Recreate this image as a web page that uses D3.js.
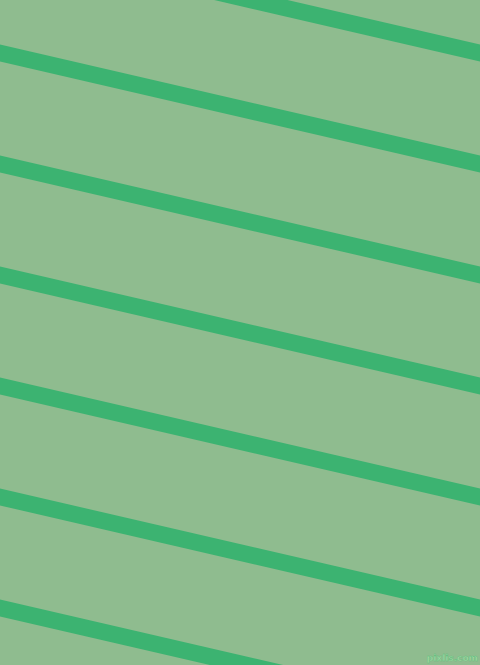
<!DOCTYPE html>
<html>
<head>
<meta charset="utf-8">
<script src="https://cdn.jsdelivr.net/npm/d3@7"></script>
<style>
html,body{margin:0;padding:0;background:#8FBC8F;}
svg{display:block;}
</style>
</head>
<body>
<svg id="chart" width="480" height="665"></svg>
<script>
// Stripe data: vertical position at left edge (x=0) and right edge (x=480)
const stripeLeft  = [-58, 53, 164, 275, 386, 497, 608];
const stripeRight = [53, 164, 275, 386, 497, 608, 719];
const watermark = ["pixlis.com"];

const W = 480, H = 665;
const svg = d3.select("#chart");
const x = d3.scaleLinear().domain([0, 1]).range([0, W]);
const y = d3.scaleLinear().domain([0, H]).range([0, H]);

svg.append("rect").attr("width", W).attr("height", H).attr("fill", "#8FBC8F");

const line = d3.line().x(d => x(d[0])).y(d => y(d[1]));
const stripes = stripeLeft.map((l, i) => [[-0.1, l - 0.1 * (stripeRight[i] - l)], [1.1, stripeRight[i] + 0.1 * (stripeRight[i] - l)]]);

svg.selectAll("path.stripe").data(stripes).enter().append("path")
  .attr("class", "stripe")
  .attr("d", line)
  .attr("fill", "none")
  .attr("stroke", "#3CB371")
  .attr("stroke-width", 16.5);

svg.selectAll("text.wm").data(watermark).enter().append("text")
  .attr("class", "wm")
  .attr("x", W - 2).attr("y", H - 4)
  .attr("text-anchor", "end")
  .attr("font-family", "DejaVu Sans, sans-serif")
  .attr("font-size", 9)
  .attr("font-weight", "bold")
  .attr("fill", "#a4d6a4")
  .attr("stroke", "#5cbf7c")
  .attr("stroke-width", 0.4)
  .text(d => d);
</script>
</body>
</html>
